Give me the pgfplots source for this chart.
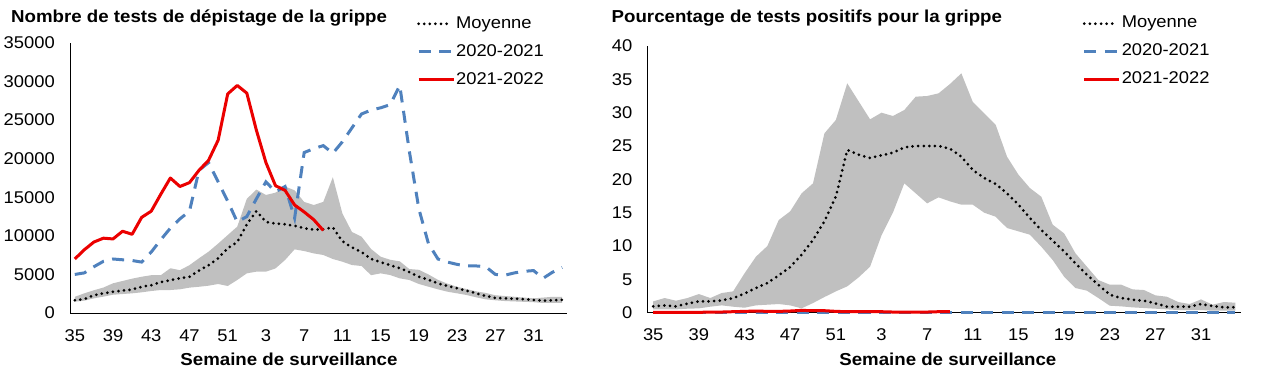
\documentclass[border=0pt]{standalone}
\usepackage{fontspec}
\setmainfont{Liberation Sans}[FakeStretch=1.08]
\usepackage{pgfplots}
\pgfplotsset{compat=1.18}
\usepackage{pgfplotstable}
\usepgfplotslibrary{fillbetween}

\definecolor{cred}{RGB}{235,0,0}
\definecolor{cblue}{RGB}{79,129,189}
\definecolor{cgray}{RGB}{192,192,192}
\newcommand\fs{\fontsize{17bp}{20bp}\selectfont}
\newcommand\fsb{\fontsize{17.3bp}{20bp}\selectfont\bfseries}

% Nombre de tests
\pgfplotstableread{
i lo hi moy blue
0 1470 2100 1650 5000
1 1600 2550 1800 5200
2 1900 2950 2300 6000
3 2120 3300 2550 6700
4 2370 3850 2750 7000
5 2460 4150 2900 6900
6 2550 4450 3050 6800
7 2680 4700 3400 6600
8 2850 4900 3600 7900
9 2980 4900 4000 9500
10 2980 5800 4250 11000
11 3070 5550 4500 12200
12 3290 6200 4700 13200
13 3400 7100 5500 18500
14 3540 7950 6200 19500
15 3760 9000 7100 17000
16 3500 10100 8400 14500
17 4280 11200 9200 11800
18 5140 14800 11500 12500
19 5360 16000 13200 14800
20 5360 15300 11800 17000
21 5780 15600 11600 15700
22 6870 16400 11500 16400
23 8250 15900 11300 12300
24 8030 14400 11000 20800
25 7730 14000 10800 21300
26 7520 14400 10850 21700
27 7000 17600 11100 20700
28 6650 12900 9300 22200
29 6220 10500 8500 24000
30 6090 9900 7900 25800
31 4900 8300 7000 26300
32 5140 7300 6600 26600
33 4920 6900 6200 27000
34 4490 6700 5800 29500
35 4280 5700 5300 21000
36 3760 5600 4700 13500
37 3410 5000 4300 9000
38 3070 4300 3850 7000
39 2760 3800 3500 6600
40 2550 3400 3200 6300
41 2330 3100 2900 6100
42 2030 2800 2550 6100
43 1770 2600 2200 6000
44 1650 2300 1950 5000
45 1550 2200 1900 4900
46 1500 2100 1850 5200
47 1450 2000 1800 5400
48 1400 1900 1700 5500
49 1300 2000 1600 4500
50 1300 2100 1650 5300
51 1300 2100 1700 5900
}\leftdata

\pgfplotstableread{
i red
0 7000
1 8200
2 9200
3 9700
4 9600
5 10600
6 10200
7 12400
8 13200
9 15400
10 17500
11 16400
12 16900
13 18500
14 19800
15 22400
16 28400
17 29500
18 28500
19 23700
20 19500
21 16500
22 15900
23 14000
24 13100
25 12100
26 10700
}\leftred

% Pourcentage de positifs
\pgfplotstableread{
i lo hi moy blue
0 0.5 1.7 0.95 0.03
1 0.5 2.2 1.1 0.03
2 0.5 1.8 0.95 0.03
3 0.6 2.2 1.35 0.03
4 0.65 2.8 1.7 0.03
5 0.9 2.2 1.7 0.03
6 1.1 2.95 1.85 0.03
7 0.9 3.2 2.2 0.03
8 0.75 5.9 2.85 0.03
9 1.1 8.4 3.7 0.03
10 1.2 10.0 4.45 0.03
11 1.3 13.9 5.6 0.03
12 1.1 15.2 6.85 0.03
13 0.65 17.9 8.7 0.03
14 1.45 19.4 10.9 0.03
15 2.35 26.9 13.7 0.03
16 3.2 28.9 17.4 0.03
17 3.95 34.4 24.4 0.03
18 5.3 31.7 23.7 0.03
19 6.9 29.0 23.2 0.03
20 11.6 30.0 23.6 0.03
21 15.0 29.5 24.0 0.03
22 19.4 30.4 24.8 0.03
23 17.9 32.4 25.0 0.03
24 16.4 32.5 25.0 0.03
25 17.3 32.9 25.0 0.03
26 16.7 34.3 24.6 0.03
27 16.2 35.9 23.4 0.03
28 16.2 31.6 21.4 0.03
29 15.0 29.9 20.2 0.03
30 14.4 28.2 19.3 0.03
31 12.7 23.4 17.9 0.03
32 12.2 20.7 16.2 0.03
33 11.7 18.7 14.2 0.03
34 9.9 17.4 12.4 0.03
35 7.9 13.2 10.8 0.03
36 5.4 11.9 9.2 0.03
37 3.7 8.9 7.4 0.03
38 3.3 6.9 5.7 0.03
39 2.2 4.9 4.2 0.03
40 1.05 4.2 2.7 0.03
41 0.95 4.2 2.2 0.03
42 0.8 3.5 1.95 0.03
43 0.7 3.4 1.8 0.03
44 0.6 2.6 1.4 0.03
45 0.5 2.4 0.9 0.03
46 0.4 1.6 0.9 0.03
47 0.4 1.3 0.9 0.03
48 0.4 2.0 1.3 0.03
49 0.3 1.2 1.0 0.03
50 0.3 1.6 0.8 0.03
51 0.3 1.5 0.8 0.03
}\rightdata

\pgfplotstableread{
i red
0 0.05
1 0.05
2 0.05
3 0.05
4 0.05
5 0.1
6 0.1
7 0.15
8 0.2
9 0.25
10 0.2
11 0.2
12 0.25
13 0.35
14 0.3
15 0.3
16 0.2
17 0.15
18 0.15
19 0.15
20 0.15
21 0.1
22 0.1
23 0.1
24 0.1
25 0.15
26 0.15
}\rightred

\pgfplotsset{
  grippe/.style={
    scale only axis, anchor=south west,
    xmin=-0.5, xmax=51.5, ymin=0,
    axis x line*=bottom, axis y line*=left,
    axis line style={black, line width=0.9bp, -},
    major tick length=0pt,
    xtick={0,4,...,48},
    xticklabels={35,39,43,47,51,3,7,11,15,19,23,27,31},
    tick label style={font=\fs},
    scaled y ticks=false,
    yticklabel style={anchor=east, inner sep=0pt, xshift=-15bp,
      /pgf/number format/fixed, /pgf/number format/precision=0},
    xticklabel style={anchor=base, inner sep=0pt, yshift=-28bp},
    /pgf/number format/assume math mode=true,
    /pgf/number format/set thousands separator={},
    xlabel={Semaine de surveillance},
    xlabel style={font=\fsb, anchor=base, inner sep=0pt},
    legend cell align=left,
    legend style={draw=none, fill=none, font=\fs, anchor=north west,
      inner sep=0pt, row sep=9.5bp,
      nodes={inner sep=1bp, text height=12.5bp, text depth=4bp}},
    clip=false,
  },
  moy/.style={black, line width=3bp, dash pattern=on 0bp off 5.6bp, line cap=round,
    legend image code/.code={\draw[##1] (0bp,0bp) -- (32bp,0bp);}},
  b20/.style={cblue, line width=3bp, dash pattern=on 12bp off 8.5bp,
    legend image code/.code={\draw[##1] (0bp,0bp) -- (33bp,0bp);}},
  r21/.style={cred, line width=3bp, line join=round,
    legend image code/.code={\draw[##1] (0bp,0bp) -- (35bp,0bp);}},
}

\begin{document}
\begin{tikzpicture}[x=1bp,y=1bp]
\node[anchor=base west, font=\fsb, inner sep=0pt] at (11,354.3) {Nombre de tests de dépistage de la grippe};
\node[anchor=base west, font=\fsb, inner sep=0pt] at (611.5,354.3) {Pourcentage de tests positifs pour la grippe};

\begin{axis}[grippe, at={(70bp,64bp)}, width=497bp, height=270bp,
  ymax=35000, ytick={0,5000,...,35000},
  xlabel style={at={(axis description cs:0.4406,0)}, yshift=-52bp},
  legend style={at={(axis description cs:0.698,1.106)}}]
  \addplot[draw=none, name path=lhi, forget plot] table[x=i,y=hi] {\leftdata};
  \addplot[draw=none, name path=llo, forget plot] table[x=i,y=lo] {\leftdata};
  \addplot[cgray, draw=none, forget plot] fill between[of=lhi and llo];
  \addplot[moy] table[x=i,y=moy] {\leftdata};
  \addlegendentry{Moyenne}
  \addplot[b20] table[x=i,y=blue] {\leftdata};
  \addlegendentry{2020-2021}
  \addplot[r21] table[x=i,y=red] {\leftred};
  \addlegendentry{2021-2022}
\end{axis}

\begin{axis}[grippe, at={(647.5bp,64.3bp)}, width=593.5bp, height=266.7bp,
  ymax=40, ytick={0,5,...,40},
  xlabel style={at={(axis description cs:0.506,0)}, yshift=-52.3bp},
  legend style={at={(axis description cs:0.733,1.119)}}]
  \addplot[draw=none, name path=rhi, forget plot] table[x=i,y=hi] {\rightdata};
  \addplot[draw=none, name path=rlo, forget plot] table[x=i,y=lo] {\rightdata};
  \addplot[cgray, draw=none, forget plot] fill between[of=rhi and rlo];
  \addplot[moy] table[x=i,y=moy] {\rightdata};
  \addlegendentry{Moyenne}
  \addplot[b20] table[x=i,y=blue] {\rightdata};
  \addlegendentry{2020-2021}
  \addplot[r21] table[x=i,y=red] {\rightred};
  \addlegendentry{2021-2022}
\end{axis}
\pgfresetboundingbox
\path[use as bounding box] (0,0) rectangle (1262,377);
\end{tikzpicture}
\end{document}
